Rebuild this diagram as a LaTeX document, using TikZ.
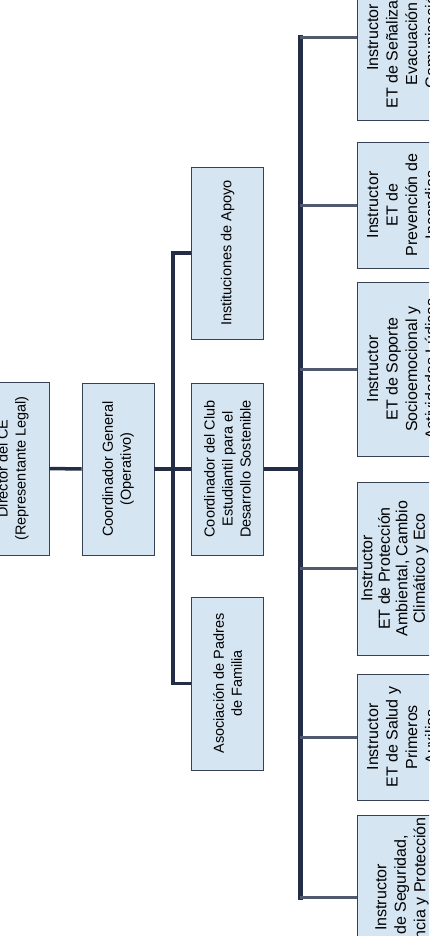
\documentclass[tikz,border=0pt]{standalone}
\usepackage{fontspec}
\setmainfont{Liberation Sans}
\usetikzlibrary{positioning}
\definecolor{boxblue}{RGB}{214,229,242}
\definecolor{boxedge}{RGB}{55,65,85}
\definecolor{linknavy}{RGB}{35,45,70}
\definecolor{branchgray}{RGB}{80,90,108}

\begin{document}
\begin{tikzpicture}[
    x=1pt, y=-1pt,
    box/.style={rotate=90, draw=boxedge, fill=boxblue, line width=0.8pt,
        align=center, inner sep=0pt, font=\fontsize{14.5}{18}\selectfont,
        minimum height=72pt},
    etbox/.style={box, font=\fontsize{16}{19.5}\selectfont,
        minimum height=90pt},
    link/.style={draw=linknavy, line width=3.5pt},
    bus/.style={draw=linknavy, line width=5pt, line cap=rect},
    branch/.style={draw=branchgray, line width=3pt},
]
\useasboundingbox (0,0) rectangle (429,936);
\clip (0,0) rectangle (429,936);

% ====== TOP LEVELS ======
\node[box, minimum width=173pt] (dir)   at (13,468.5)  {Director del CE\\(Representante Legal)};
\node[box, minimum width=172pt] (coord) at (118,469)   {Coordinador General\\(Operativo)};

\node[box, minimum width=172pt] (inst) at (227.5,253)   {Instituciones de Apoyo};
\node[box, minimum width=172pt] (club) at (227.5,469)   {Coordinador del Club\\Estudiantil para el\\Desarrollo Sostenible};
\node[box, minimum width=173pt] (asoc) at (227.5,683.5) {Asociación de Padres\\de Familia};

% ====== INSTRUCTORES ET ======
\node[etbox, minimum width=165pt] (et1) at (402,37.5)  {Instructor\\ET de Señalización,\\Evacuación y\\Comunicación};
\node[etbox, minimum width=126pt] (et2) at (402,205)   {Instructor\\ET de\\Prevención de\\Incendios};
\node[etbox, minimum width=174pt] (et3) at (402,369)   {Instructor\\ET de Soporte\\Socioemocional y\\Actividades Lúdicas};
\node[etbox, minimum width=173pt, font=\fontsize{16}{17.5}\selectfont]
    (et4) at (402,568.5) {Instructor\\ET de Protección\\Ambiental, Cambio\\Climático y Eco\\[-5pt]\strut};
\node[etbox, minimum width=126pt] (et5) at (402,737)   {Instructor\\ET de Salud y\\Primeros\\Auxilios};
\node[etbox, minimum width=165pt] (et6) at (402,897.5) {Instructor\\ET de Seguridad,\\Vigilancia y Protección};

% ====== CONNECTORS ======
\coordinate (split) at (173,469);
\coordinate (busx)  at (300,469);

\draw[link] (dir.south) -- (coord.north);
\draw[link] (coord.south) -- (club.north);
\draw[link] (inst.north) -| (split) |- (asoc.north);
\draw[link] (club.south) -- (busx);

\draw[bus] (et1.north -| busx) -- (et6.north -| busx);
\foreach \b in {et1, et2, et3, et4, et5, et6}
    \draw[branch] (\b.north -| busx) -- (\b.north);

\end{tikzpicture}
\end{document}
